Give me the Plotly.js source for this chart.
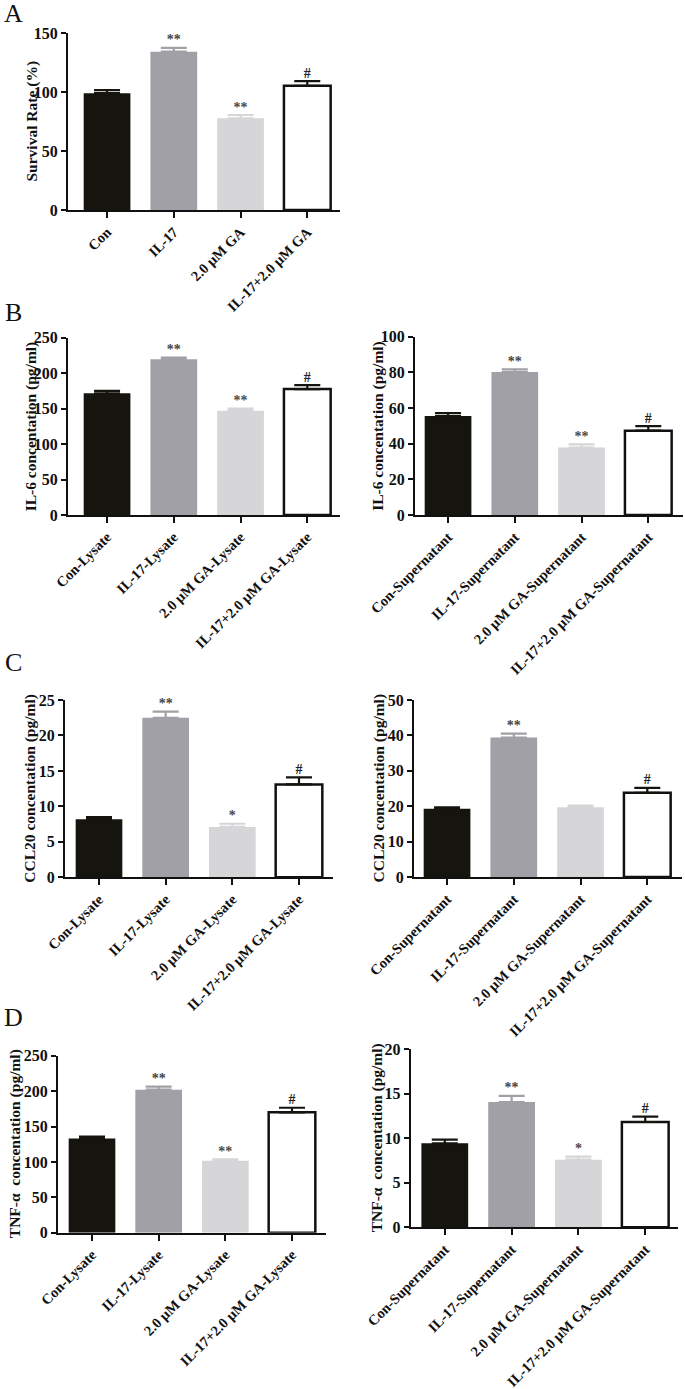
<!DOCTYPE html>
<html>
<head>
<meta charset="utf-8">
<script src="https://cdn.plot.ly/plotly-3.0.1.min.js"></script>
<style>html,body{margin:0;padding:0;background:#fff;}#chart{width:685px;height:1389px;}</style>
</head>
<body>
<div id="chart"></div>
<script>
// ---------- DATA ----------
const catsA   = ["Con", "IL-17", "2.0 μM GA", "IL-17+2.0 μM GA"];
const catsLys = ["Con-Lysate", "IL-17-Lysate", "2.0 μM GA-Lysate", "IL-17+2.0 μM GA-Lysate"];
const catsSup = ["Con-Supernatant", "IL-17-Supernatant", "2.0 μM GA-Supernatant", "IL-17+2.0 μM GA-Supernatant"];

const survivalVals = [99, 134.2, 77.7, 105.3];
const survivalErrs = [2.6, 3.2, 2.8, 4.0];
const survivalMarks = ["", "**", "**", "#"];

const il6LysVals = [171.6, 219.5, 147, 177.6];
const il6LysErrs = [3.4, 2.6, 3.0, 5.6];
const il6LysMarks = ["", "**", "**", "#"];

const il6SupVals = [55.5, 80.2, 37.8, 47.3];
const il6SupErrs = [1.6, 1.5, 1.8, 2.6];
const il6SupMarks = ["", "**", "**", "#"];

const ccl20LysVals = [8.2, 22.5, 7.1, 13.1];
const ccl20LysErrs = [0.3, 0.85, 0.45, 1.0];
const ccl20LysMarks = ["", "**", "*", "#"];

const ccl20SupVals = [19.3, 39.4, 19.7, 23.8];
const ccl20SupErrs = [0.35, 1.1, 0.45, 1.4];
const ccl20SupMarks = ["", "**", "", "#"];

const tnfLysVals = [133.2, 202, 101.7, 170];
const tnfLysErrs = [2.4, 4.2, 1.9, 6.5];
const tnfLysMarks = ["", "**", "**", "#"];

const tnfSupVals = [9.44, 14.08, 7.6, 11.83];
const tnfSupErrs = [0.41, 0.68, 0.34, 0.6];
const tnfSupMarks = ["", "**", "*", "#"];

// ---------- STYLE / LAYOUT ----------
const W = 685, H = 1389;
const FONT = "Liberation Serif";
const barColors = ["#15140e", "#a0a0a6", "#d6d6d8", "#ffffff"];
const errColors = ["#15140e", "#a0a0a6", "#d6d6d8", "#15140e"];
const markColors = ["#333", "#444", "#4a4a4a", "#222"];
const B = s => "<b>" + s + "</b>";

const panels = [
  {cats: catsA,   vals: survivalVals, errs: survivalErrs, marks: survivalMarks, title: "Survival Rate (%)",          ymax: 150, dtick: 50, box: [68, 340, 33, 210],      range: [-0.585, 3.49], tx: 31},
  {cats: catsLys, vals: il6LysVals,   errs: il6LysErrs,   marks: il6LysMarks,   title: "IL-6 concentation (pg/ml)",  ymax: 250, dtick: 50, box: [68, 340, 337.7, 515],   range: [-0.585, 3.49], tx: 31},
  {cats: catsSup, vals: il6SupVals,   errs: il6SupErrs,   marks: il6SupMarks,   title: "IL-6 concentation (pg/ml)",  ymax: 100, dtick: 20, box: [415, 683, 336.7, 515],  range: [-0.495, 3.52], tx: 378},
  {cats: catsLys, vals: ccl20LysVals, errs: ccl20LysErrs, marks: ccl20LysMarks, title: "CCL20 concentation (pg/ml)", ymax: 25,  dtick: 5,  box: [65, 333, 700, 877.3],   range: [-0.51, 3.51],  tx: 30},
  {cats: catsSup, vals: ccl20SupVals, errs: ccl20SupErrs, marks: ccl20SupMarks, title: "CCL20 concentation (pg/ml)", ymax: 50,  dtick: 10, box: [414, 682, 700, 877],     range: [-0.495, 3.52], tx: 378},
  {cats: catsLys, vals: tnfLysVals,   errs: tnfLysErrs,   marks: tnfLysMarks,   title: "TNF-α  concentation (pg/ml)", ymax: 250, dtick: 50, box: [58, 326, 1055.7, 1232.7], range: [-0.51, 3.51], tx: 15},
  {cats: catsSup, vals: tnfSupVals,   errs: tnfSupErrs,   marks: tnfSupMarks,   title: "TNF-α  concentation (pg/ml)", ymax: 20,  dtick: 5,  box: [410.7, 678, 1049.3, 1227.3], range: [-0.51, 3.49], tx: 377}
];

const letters = [
  {t: "A", x: 13, y: 14},
  {t: "B", x: 13, y: 313},
  {t: "C", x: 13, y: 662},
  {t: "D", x: 13, y: 1017}
];

const traces = [];
const layout = {
  width: W, height: H,
  margin: {l: 0, r: 0, t: 0, b: 0},
  paper_bgcolor: "#fff", plot_bgcolor: "#fff",
  showlegend: false,
  barmode: "overlay",
  font: {family: FONT, color: "#111"},
  annotations: []
};

panels.forEach((p, k) => {
  const n = k + 1;
  const xa = "x" + (n === 1 ? "" : n), ya = "y" + (n === 1 ? "" : n);
  const xk = "xaxis" + (n === 1 ? "" : n), yk = "yaxis" + (n === 1 ? "" : n);
  const [l, r, t, b] = p.box;
  const yt = [];
  for (let v = 0; v <= p.ymax + 1e-9; v += p.dtick) yt.push(v);
  layout[xk] = {
    domain: [l / W, r / W], anchor: ya, type: "category",
    range: p.range, showline: true, linewidth: 2, linecolor: "#111",
    ticks: "outside", ticklen: 6, tickwidth: 2, tickcolor: "#111",
    tickvals: p.cats, ticktext: p.cats.map(B),
    tickangle: -45, showgrid: false, zeroline: false, fixedrange: true,
    tickfont: {family: FONT, size: 14.5, color: "#111"}
  };
  layout[yk] = {
    domain: [1 - b / H, 1 - t / H], anchor: xa,
    range: [0, p.ymax], tickvals: yt, ticktext: yt.map(v => B(String(v))),
    showline: true, linewidth: 2, linecolor: "#111",
    ticks: "outside", ticklen: 5, tickwidth: 2, tickcolor: "#111",
    showgrid: false, zeroline: false, fixedrange: true,
    tickfont: {family: FONT, size: 16, color: "#111"}
  };
  p.cats.forEach((c, i) => {
    traces.push({
      type: "bar", x: [c], y: [p.vals[i]], width: 0.7,
      xaxis: xa, yaxis: ya, hoverinfo: "skip",
      marker: {color: barColors[i], line: {color: "#111", width: i === 3 ? 2.5 : 0}},
      error_y: {type: "data", symmetric: false, array: [p.errs[i]], arrayminus: [0],
                color: errColors[i], thickness: 2.2, width: 13}
    });
  });
  traces.push({
    type: "scatter", mode: "text", x: p.cats,
    y: p.vals.map((v, i) => v + p.errs[i]),
    text: p.marks.map(m => m ? B(m) : ""), textposition: "top center", cliponaxis: false,
    textfont: {family: FONT, size: 14, color: markColors},
    xaxis: xa, yaxis: ya, hoverinfo: "skip"
  });
  layout.annotations.push({
    xref: "paper", yref: "paper", x: p.tx / W, y: 1 - ((t + b) / 2) / H,
    text: B(p.title), textangle: -90, showarrow: false,
    xanchor: "center", yanchor: "middle",
    font: {family: FONT, size: 15.5, color: "#111"}
  });
});

letters.forEach(L => {
  layout.annotations.push({
    xref: "paper", yref: "paper", x: L.x / W, y: 1 - L.y / H,
    text: L.t, showarrow: false, xanchor: "center", yanchor: "middle",
    font: {family: FONT, size: 26, color: "#111"}
  });
});

Plotly.newPlot("chart", traces, layout, {staticPlot: true, displayModeBar: false});
</script>
</body>
</html>
